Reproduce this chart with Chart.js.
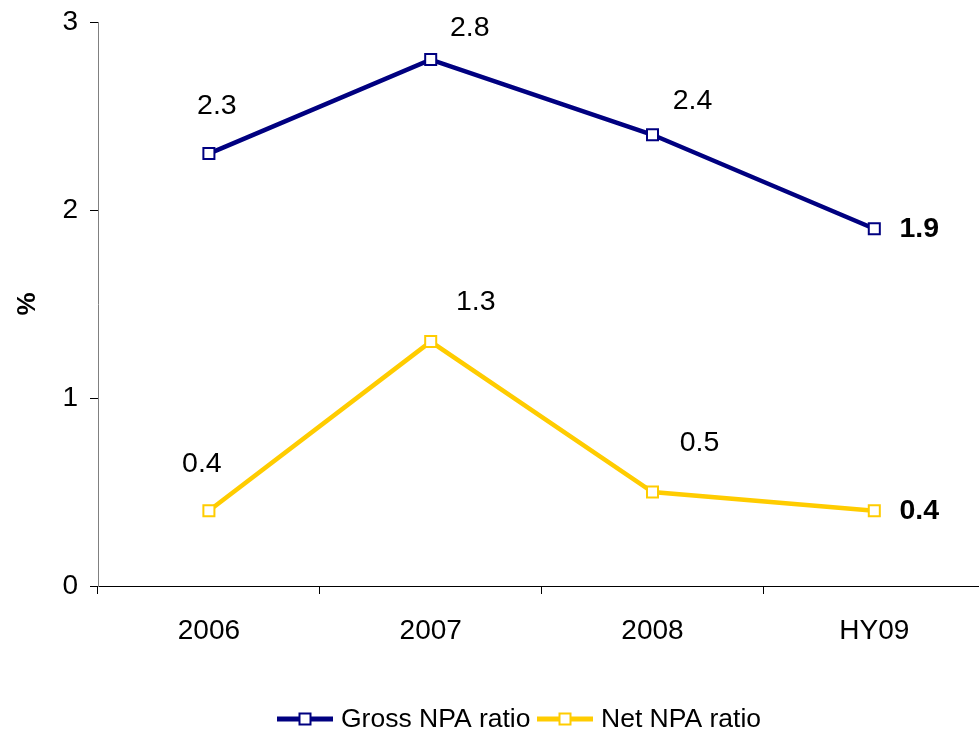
<!DOCTYPE html>
<html>
<head>
<meta charset="utf-8">
<script src="https://cdn.jsdelivr.net/npm/chart.js@4/dist/chart.umd.min.js"></script>
<style>
  html, body { margin: 0; padding: 0; background: #fff; overflow: hidden; }
  #wrap { width: 979px; height: 730px; overflow: hidden; position: relative; }
  #box { width: 995px; height: 730px; position: absolute; left: 0; top: 0; }
</style>
</head>
<body>
<div id="wrap"><div id="box"><canvas id="c"></canvas></div></div>
<script>
// NPA ratios by period (%)
const periods = ['2006', '2007', '2008', 'HY09'];
const grossNpa = [2.3, 2.8, 2.4, 1.9];
const netNpa = [0.4, 1.3, 0.5, 0.4];
const yTicks = [0, 1, 2, 3];

const FONT = '"Liberation Sans", Arial, sans-serif';

// label placement relative to each point (dx, dy, bold)
const labelStyle = [
  [[8, -47, false], [39, -31, false], [40, -34, false], [45, 0, true]],
  [[-7, -47, false], [45, -39, false], [47, -49, false], [45, 0, true]]
];

const pointLabels = {
  id: 'pointLabels',
  afterDatasetsDraw(chart) {
    const ctx = chart.ctx;
    ctx.save();
    ctx.fillStyle = '#000';
    ctx.textAlign = 'center';
    ctx.textBaseline = 'middle';
    chart.data.datasets.forEach((ds, di) => {
      const meta = chart.getDatasetMeta(di);
      meta.data.forEach((pt, i) => {
        const [dx, dy, bold] = labelStyle[di][i];
        ctx.font = (bold ? 'bold ' : '') + '28.5px ' + FONT;
        ctx.fillText(ds.data[i].toFixed(1), pt.x + dx, pt.y + dy);
      });
    });
    ctx.restore();
  }
};

// legend row drawn under the axis
const legendRow = {
  id: 'legendRow',
  afterDraw(chart) {
    const ctx = chart.ctx;
    const y = 719;
    const items = [[277, 333], [537, 593]];
    ctx.save();
    ctx.font = '26.5px ' + FONT;
    ctx.textBaseline = 'middle';
    ctx.textAlign = 'left';
    chart.data.datasets.forEach((ds, di) => {
      const [x0, x1] = items[di];
      ctx.strokeStyle = ds.borderColor;
      ctx.lineWidth = 5;
      ctx.beginPath();
      ctx.moveTo(x0, y);
      ctx.lineTo(x1, y);
      ctx.stroke();
      const mx = (x0 + x1) / 2;
      ctx.fillStyle = '#fff';
      ctx.lineWidth = 2;
      ctx.fillRect(mx - 5.5, y - 5.5, 11, 11);
      ctx.strokeRect(mx - 5.5, y - 5.5, 11, 11);
      ctx.fillStyle = '#000';
      ctx.fillText(ds.label, x1 + 8, y + 1);
    });
    ctx.restore();
  }
};

new Chart(document.getElementById('c'), {
  type: 'line',
  data: {
    labels: periods,
    datasets: [
      {
        label: 'Gross NPA ratio',
        data: grossNpa,
        borderColor: '#000080',
        backgroundColor: '#ffffff',
        borderWidth: 4.5,
        pointStyle: 'rect',
        pointRadius: 7.8,
        pointBorderWidth: 2,
        pointBackgroundColor: '#ffffff',
        pointBorderColor: '#000080',
        tension: 0
      },
      {
        label: 'Net NPA ratio',
        data: netNpa,
        borderColor: '#FFCC00',
        backgroundColor: '#ffffff',
        borderWidth: 4.5,
        pointStyle: 'rect',
        pointRadius: 7.8,
        pointBorderWidth: 2,
        pointBackgroundColor: '#ffffff',
        pointBorderColor: '#FFCC00',
        tension: 0
      }
    ]
  },
  options: {
    responsive: true,
    maintainAspectRatio: false,
    animation: false,
    layout: { padding: { top: 22, right: 6, left: 0, bottom: 0 } },
    plugins: {
      legend: { display: false },
      tooltip: { enabled: false }
    },
    scales: {
      x: {
        offset: true,
        grid: {
          offset: true,
          drawOnChartArea: false,
          drawTicks: true,
          tickLength: 8,
          color: '#000'
        },
        border: { display: true, color: '#000', width: 1 },
        ticks: { color: '#000', font: { family: FONT, size: 28 }, padding: 20, maxRotation: 0 },
        afterFit(scale) {
          scale.height = 144;
          scale.paddingLeft = 0;
          scale.paddingRight = 0;
        }
      },
      y: {
        min: 0,
        max: 3,
        afterBuildTicks(scale) { scale.ticks = yTicks.map(v => ({ value: v })); },
        grid: {
          drawOnChartArea: false,
          drawTicks: true,
          tickLength: 8,
          color: '#000'
        },
        border: { display: true, color: '#808080', width: 1 },
        ticks: { color: '#000', font: { family: FONT, size: 28 }, padding: 12 },
        title: {
          display: true,
          text: '%',
          color: '#000',
          font: { family: FONT, size: 26, weight: 'bold' },
          padding: { top: 12, bottom: 0 }
        },
        afterFit(scale) {
          scale.width = 98;
          scale.paddingTop = 0;
          scale.paddingBottom = 0;
        }
      }
    }
  },
  plugins: [pointLabels, legendRow]
});
</script>
</body>
</html>
